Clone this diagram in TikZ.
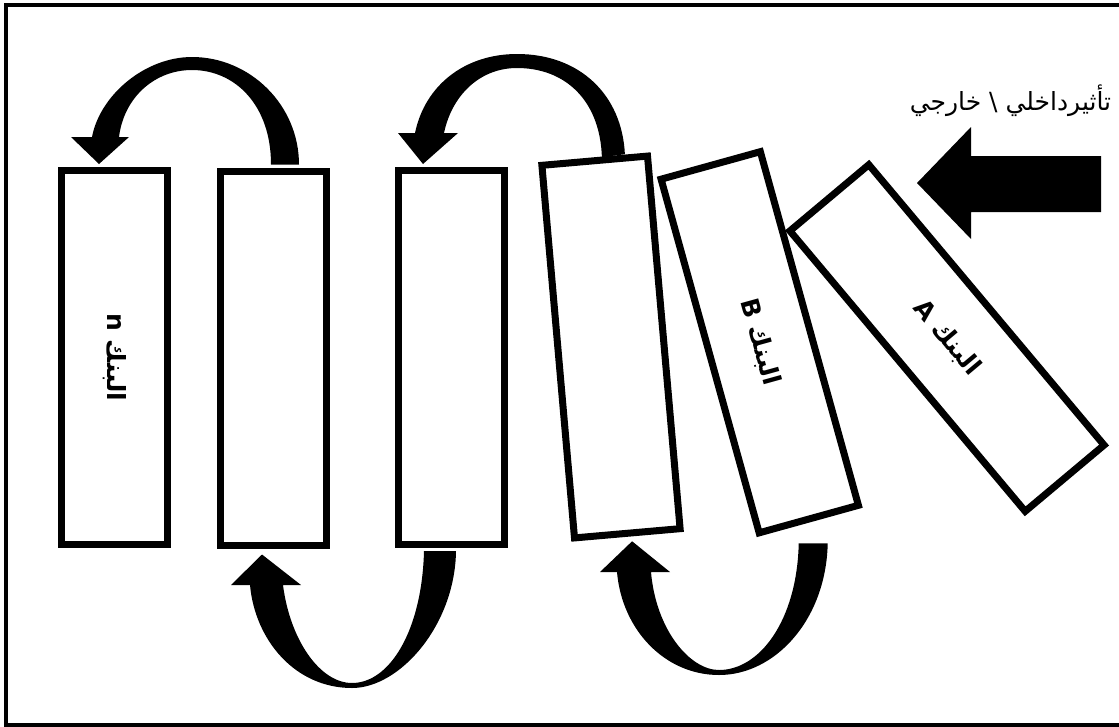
\documentclass[tikz,border=0pt]{standalone}
\usepackage{fontspec}
\newfontfamily\arabicfont[Script=Arabic]{DejaVu Sans}
\TeXXeTstate=1
\usetikzlibrary{calc}

\begin{document}
\begin{tikzpicture}[x=1pt, y=-1pt,
    bank/.style={draw, line width=7pt, fill=white, minimum width=106pt,
      minimum height=374pt, inner sep=0pt,
      font=\arabicfont\bfseries\fontsize{25}{30}\selectfont},
    turnarrow/.style={fill=black}
  ]
  \useasboundingbox (0,0) rectangle (1119,726);
  \draw[line width=4pt] (6,4.6) rectangle (1130,724.6);

  % the banks, from left to right
  \node[bank] (bn) at (114.5,357.5) {\rotatebox{-90}{\beginR البنك n\endR}};
  \node[bank] (b2) at (273.5,358) {};
  \node[bank] (b3) at (451,357.5) {};
  \node[bank, rotate=5] (b4) at (611,347) {};
  \node[bank, rotate=15.5, minimum width=103pt, minimum height=367pt]
    (bB) at (759.75,342.25) {\rotatebox{-90}{\beginR البنك B\endR}};
  \node[bank, rotate=40, minimum width=103pt, minimum height=366pt]
    (bA) at (947,338) {\rotatebox{-90}{\beginR البنك A\endR}};

  \node[anchor=base, font=\arabicfont\fontsize{25}{30}\selectfont] (cause)
    at (1010.5,110) {\beginR تأثيرداخلي \textbackslash{} خارجي\endR};
  \fill (1101,156) -- (971,156) -- (971,127) -- (917,183) -- (971,239)
    -- (971,212) -- (1101,212) -- cycle;

  % arrows over the top
  \fill[turnarrow] ($(b2.north)+(25.5,-3)$) .. controls (299,105) and (250,57) .. (192,57)
    .. controls (145,57) and (100,95) .. (92,137) -- (71,137)
    -- ($(bn.north)+(-15.5,-3)$) -- (129,137) -- (119,137)
    .. controls (124,97) and (155,70) .. (192,70)
    .. controls (235,70) and (271,105) .. ($(b2.north)+(-2.5,-3)$) -- cycle;
  \fill[turnarrow] ($(b4.north)+(30.5,-3)$) .. controls (622,95) and (580,54) .. (517,54)
    .. controls (465,54) and (425,85) .. (415,133) -- (398,133)
    -- ($(b3.north)+(-28,-3)$) -- (458,133) -- (444,133)
    .. controls (452,95) and (480,68) .. (517,68)
    .. controls (565,68) and (600,100) .. ($(b4.north)+(7.5,0)$) -- cycle;

  % arrows underneath
  \fill[turnarrow] ($(b3.south)+(5,3)$) .. controls (455,625) and (400,688) .. (352,688)
    .. controls (295,688) and (255,640) .. (250,585) -- (231,585)
    -- ($(b2.south)+(-11.5,6)$) -- (301,585) -- (283,585)
    .. controls (290,640) and (320,683) .. (352,683)
    .. controls (390,683) and (422,630) .. ($(b3.south)+(-27,3)$) -- cycle;
  \fill[turnarrow] ($(bB.south)+(18,21)$) .. controls (826,620) and (775,675) .. (719,675)
    .. controls (665,675) and (622,630) .. (617,572) -- (600,572)
    -- ($(b4.south)+(4.5,4.5)$) -- (670,572) -- (651,572)
    .. controls (656,630) and (690,670) .. (719,670)
    .. controls (760,670) and (797,620) .. ($(bB.south)+(-11,21)$) -- cycle;
\end{tikzpicture}
\end{document}
